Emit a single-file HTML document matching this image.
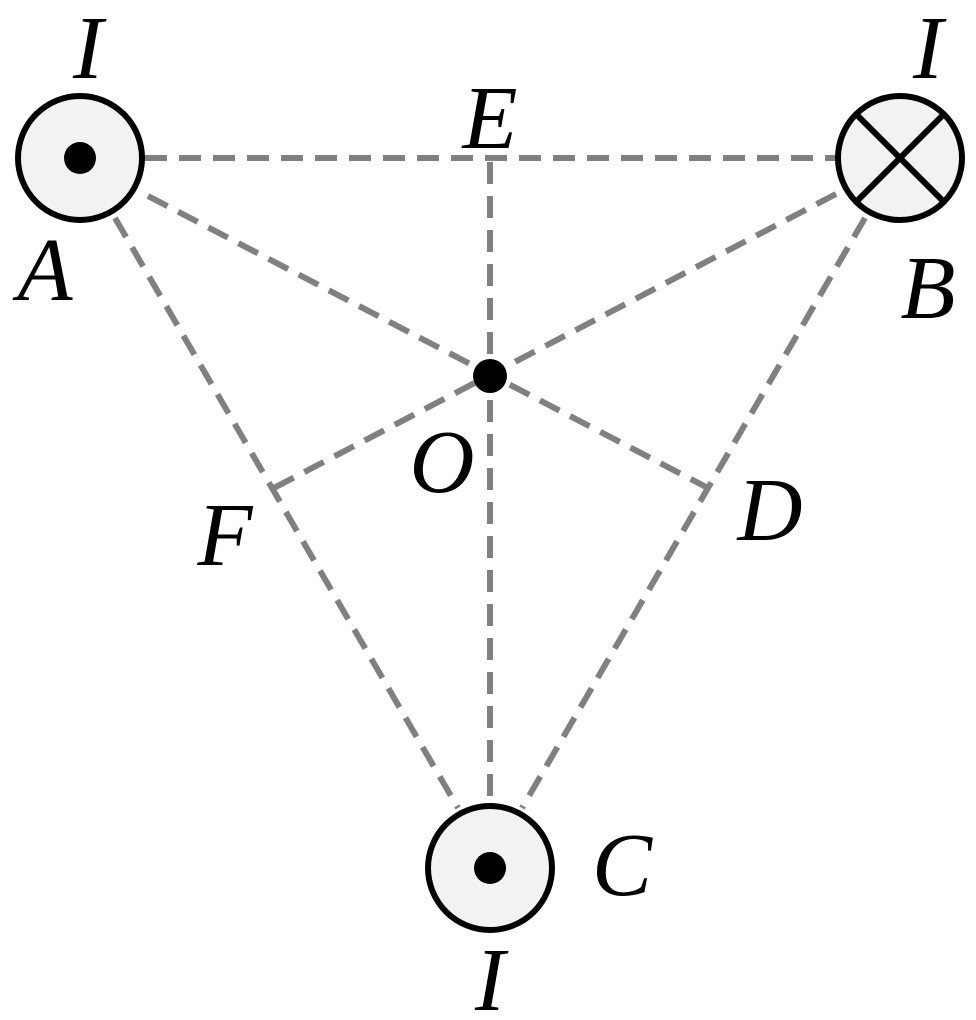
<!DOCTYPE html>
<html><head><style>body{margin:0;background:#fff}svg{display:block}text{font-family:"Liberation Serif","Times New Roman",serif;font-style:italic}</style></head>
<body>
<svg width="976" height="1020" viewBox="0 0 976 1020" xmlns="http://www.w3.org/2000/svg">
<g stroke="#808080" stroke-width="6" stroke-dasharray="22,12" fill="none">
<line x1="145" y1="158" x2="836" y2="158"/>
<line x1="490" y1="162" x2="490" y2="805"/>
<line x1="148" y1="196" x2="708" y2="488"/>
<line x1="836" y1="194" x2="270" y2="490"/>
<line x1="115" y1="218" x2="458" y2="808"/>
<line x1="865" y1="218" x2="522" y2="808"/>
</g>
<g stroke="#000" stroke-width="6" fill="#f2f2f2">
<circle cx="80" cy="158" r="62"/>
<circle cx="900" cy="158" r="62"/>
<circle cx="490" cy="868" r="62"/>
</g>
<g stroke="#000" stroke-width="6">
<line x1="856" y1="114" x2="944" y2="202"/>
<line x1="944" y1="114" x2="856" y2="202"/>
</g>
<g fill="#000">
<circle cx="80" cy="158" r="16"/>
<circle cx="490" cy="868" r="16"/>
<circle cx="490" cy="376" r="17"/>
</g>
<g font-size="90" fill="#000" text-anchor="middle">
<text x="88" y="78">I</text>
<text x="490" y="148">E</text>
<text x="928" y="78">I</text>
<text x="45" y="300">A</text>
<text x="928" y="318">B</text>
<text x="442" y="492">O</text>
<text x="225" y="565">F</text>
<text x="770" y="540">D</text>
<text x="622" y="895">C</text>
<text x="490" y="1010">I</text>
</g>
</svg>
</body></html>
